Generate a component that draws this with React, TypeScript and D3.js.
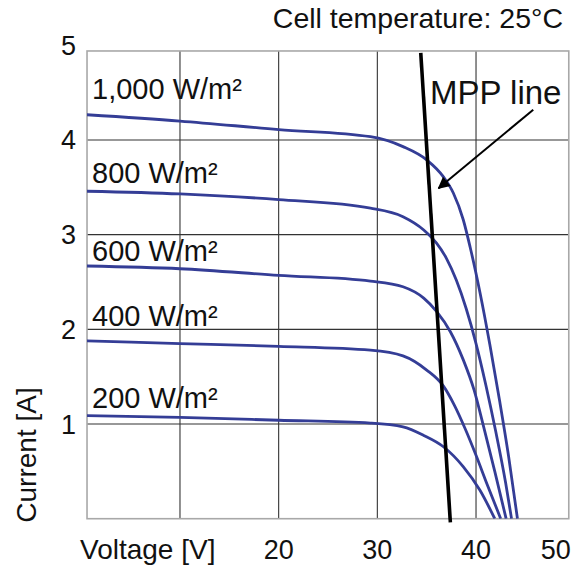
import React, { useEffect, useRef } from "react";
import * as d3 from "d3";

// irradiance curves (voltage V, current A)
const irradianceLabels = ["1,000 W/m²", "800 W/m²", "600 W/m²", "400 W/m²", "200 W/m²"];

const volts1000 = [0, 10, 20, 29.3, 32.6, 35.0, 36.7, 37.7, 38.7, 39.4, 40.4, 41.4, 42.4, 43.3, 44.2];
const amps1000 = [4.27, 4.2, 4.11, 4.035, 3.93, 3.79, 3.61, 3.44, 3.16, 2.87, 2.39, 1.84, 1.24, 0.66, 0];

const volts800 = [0, 10, 20, 29.3, 32.6, 34.7, 36.0, 37.0, 38.0, 39.0, 40.0, 41.0, 42.0, 43.0, 43.6];
const amps800 = [3.46, 3.43, 3.37, 3.28, 3.19, 3.05, 2.91, 2.75, 2.52, 2.22, 1.85, 1.41, 0.92, 0.38, 0];

const volts600 = [0, 10, 20, 29.3, 32.6, 34.7, 36.0, 37.4, 38.7, 39.8, 40.8, 41.9, 43.05];
const amps600 = [2.67, 2.64, 2.57, 2.51, 2.45, 2.33, 2.19, 1.975, 1.68, 1.36, 0.96, 0.5, 0];

const volts400 = [0, 10, 20, 29.3, 32.6, 35.0, 36.7, 37.8, 38.9, 40.0, 41.1, 42.5];
const amps400 = [1.88, 1.85, 1.82, 1.78, 1.72, 1.57, 1.4, 1.2, 0.95, 0.67, 0.37, 0];

const volts200 = [0, 10, 20, 29.3, 32.6, 34.7, 36.7, 38.7, 40.4, 41.9];
const amps200 = [1.09, 1.07, 1.04, 1.01, 0.97, 0.88, 0.76, 0.55, 0.3, 0];

// MPP line end points
const mppVolts = [34.4, 37.4];
const mppAmps = [4.92, -0.04];

const xGrid = [10, 20, 30, 40];
const yGrid = [1, 2, 3, 4];
const xTicks = [20, 30, 40, 50];
const yTicks = [1, 2, 3, 4, 5];

const W = 578;
const H = 571;

export default function App() {
  const svgRef = useRef<SVGSVGElement>(null);

  useEffect(() => {
    const svg = d3.select(svgRef.current);
    svg.selectAll("*").remove();

    const x = d3.scaleLinear().domain([0, 50]).range([81.3, 574.7]);
    const y = d3.scaleLinear().domain([0, 5]).range([518.7, 45.3]);

    const font = "'Liberation Sans', Arial, Helvetica, sans-serif";
    const blue = "#343d96";

    const left = x(0.58), right = x(49.4), top = y(4.94), bottom = y(0);

    // grid
    svg.append("g").selectAll("line").data(xGrid).join("line")
      .attr("x1", d => x(d)).attr("x2", d => x(d))
      .attr("y1", top).attr("y2", bottom)
      .attr("stroke", "#333").attr("stroke-width", 1.1);
    svg.append("g").selectAll("line").data(yGrid).join("line")
      .attr("x1", left).attr("x2", right)
      .attr("y1", d => y(d)).attr("y2", d => y(d))
      .attr("stroke", "#333").attr("stroke-width", 1.1);

    svg.append("rect")
      .attr("x", left).attr("y", top)
      .attr("width", right - left).attr("height", bottom - top)
      .attr("fill", "none").attr("stroke", "#a8a8a8").attr("stroke-width", 1.6);

    svg.append("clipPath").attr("id", "plot")
      .append("rect")
      .attr("x", left).attr("y", top)
      .attr("width", right - left).attr("height", bottom - top);

    const series = [
      { v: volts1000, i: amps1000 },
      { v: volts800, i: amps800 },
      { v: volts600, i: amps600 },
      { v: volts400, i: amps400 },
      { v: volts200, i: amps200 },
    ];

    const line = d3.line<[number, number]>()
      .x(d => x(d[0]))
      .y(d => y(d[1]))
      .curve(d3.curveMonotoneX);

    svg.append("g").attr("clip-path", "url(#plot)")
      .selectAll("path").data(series).join("path")
      .attr("d", s => line(s.v.map((v, k) => [v, s.i[k]] as [number, number])))
      .attr("fill", "none")
      .attr("stroke", blue)
      .attr("stroke-width", 2.8);

    // curve labels
    const labelAmps = [4.43, 3.55, 2.72, 2.035, 1.17];
    svg.append("g").selectAll("text").data(irradianceLabels).join("text")
      .attr("x", 92)
      .attr("y", (_, k) => y(labelAmps[k]))
      .attr("font-family", font).attr("font-size", 29).attr("fill", "#111")
      .text(d => d);

    // MPP line
    svg.append("line")
      .attr("x1", x(mppVolts[0])).attr("y1", y(mppAmps[0]))
      .attr("x2", x(mppVolts[1])).attr("y2", y(mppAmps[1]))
      .attr("stroke", "#000").attr("stroke-width", 3.6);

    // arrow
    svg.append("defs").append("marker")
      .attr("id", "arrowhead")
      .attr("viewBox", "0 0 10 10")
      .attr("refX", 9).attr("refY", 5)
      .attr("markerWidth", 7.5).attr("markerHeight", 6)
      .attr("markerUnits", "strokeWidth")
      .attr("orient", "auto")
      .append("path").attr("d", "M0,0L10,5L0,10Z").attr("fill", "#000");

    svg.append("line")
      .attr("x1", x(45.8)).attr("y1", y(4.32))
      .attr("x2", x(36.2)).attr("y2", y(3.49))
      .attr("stroke", "#000").attr("stroke-width", 2)
      .attr("marker-end", "url(#arrowhead)");

    svg.append("text")
      .attr("x", 430).attr("y", y(4.38))
      .attr("font-family", font).attr("font-size", 33).attr("fill", "#111")
      .text("MPP line");

    // ticks
    svg.append("g").selectAll("text").data(yTicks).join("text")
      .attr("x", 76).attr("y", d => y(d) + 9.5)
      .attr("text-anchor", "end")
      .attr("font-family", font).attr("font-size", 27).attr("fill", "#111")
      .text(d => d);

    svg.append("g").selectAll("text").data(xTicks).join("text")
      .attr("x", d => (d === 50 ? right + 2 : x(d)))
      .attr("y", 559)
      .attr("text-anchor", d => (d === 50 ? "end" : "middle"))
      .attr("font-family", font).attr("font-size", 27).attr("fill", "#111")
      .text(d => d);

    svg.append("text")
      .attr("x", 80).attr("y", 559)
      .attr("font-family", font).attr("font-size", 28).attr("fill", "#111")
      .text("Voltage [V]");

    svg.append("text")
      .attr("transform", "translate(36,455) rotate(-90)")
      .attr("text-anchor", "middle")
      .attr("font-family", font).attr("font-size", 28).attr("fill", "#111")
      .text("Current [A]");

    svg.append("text")
      .attr("x", 563).attr("y", 28)
      .attr("text-anchor", "end")
      .attr("font-family", font).attr("font-size", 28.5).attr("fill", "#111")
      .text("Cell temperature: 25°C");
  }, []);

  return (
    <svg
      ref={svgRef}
      width={W}
      height={H}
      style={{ position: "absolute", left: 0, top: 0, background: "#fff" }}
    />
  );
}
